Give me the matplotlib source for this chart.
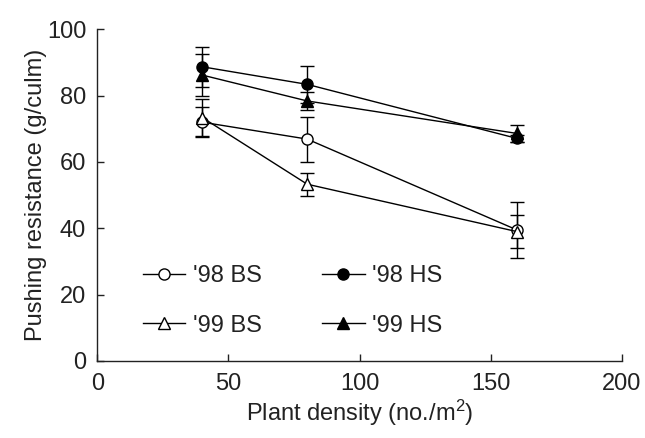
import matplotlib
matplotlib.use("Agg")
import matplotlib.pyplot as plt
from matplotlib.lines import Line2D

plt.rcParams['font.family'] = ['Liberation Sans', 'DejaVu Sans']
plt.rcParams['mathtext.fontset'] = 'custom'
plt.rcParams['mathtext.rm'] = 'Liberation Sans'
plt.rcParams['mathtext.it'] = 'Liberation Sans:italic'

density = [40, 80, 160]
bs98 = [72.0, 66.9, 39.5]
bs98_err = [4.5, 6.8, 8.3]
hs98 = [88.7, 83.4, 67.1]
hs98_err = [6.1, 5.5, 1.0]
bs99 = [73.4, 53.3, 39.0]
bs99_err = [5.6, 3.5, 4.9]
hs99 = [86.2, 78.4, 68.6]
hs99_err = [6.4, 2.8, 2.5]
labels = ["'98 BS", "'98 HS", "'99 BS", "'99 HS"]
xticks = [0, 50, 100, 150, 200]
yticks = [0, 20, 40, 60, 80, 100]

FS = 17
TXT = '#222222'

fig = plt.figure(figsize=(6.45, 4.38), dpi=100)
ax = fig.add_axes([0.1509, 0.1758, 0.8134, 0.7573])

common = dict(color='black', ecolor='black', lw=1.0, elinewidth=1.0,
              capsize=4.7, capthick=1.0, markeredgecolor='black',
              markeredgewidth=1.0)
styles = [('o', 'white', 8), ('o', 'black', 8), ('^', 'white', 8.5), ('^', 'black', 8.5)]
series = [(bs98, bs98_err), (hs98, hs98_err), (bs99, bs99_err), (hs99, hs99_err)]
handles = []
for (vals, errs), (mk, fc, ms), lab in zip(series, styles, labels):
    ax.errorbar(density, vals, yerr=errs, fmt='-' + mk, ms=ms,
                markerfacecolor=fc, **common)
    handles.append(Line2D([], [], color='black', lw=1.0, marker=mk, ms=ms,
                          markerfacecolor=fc, markeredgecolor='black',
                          markeredgewidth=1.0, label=lab))

ax.set_xlim(0, 200)
ax.set_ylim(0, 100)
ax.set_xticks(xticks)
ax.set_yticks(yticks)
for s in ['top', 'right']:
    ax.spines[s].set_visible(False)
for s in ['left', 'bottom']:
    ax.spines[s].set_linewidth(1.0)
    ax.spines[s].set_color(TXT)
ax.tick_params(direction='in', length=5, width=1.0, labelsize=FS,
               colors=TXT, labelcolor=TXT)
ax.tick_params(axis='x', pad=9)
ax.tick_params(axis='y', pad=8)

ax.set_xlabel('Plant density (no./m$^{2}$)', fontsize=FS, color=TXT, labelpad=2)
ax.set_ylabel('Pushing resistance (g/culm)', fontsize=FS, color=TXT, labelpad=0)

# matplotlib fills legend columns first: reorder so rows read '98 / '99
order = [0, 2, 1, 3]
leg = ax.legend([handles[i] for i in order], [labels[i] for i in order],
                ncol=2, frameon=False,
                loc='upper left', bbox_to_anchor=(0.087, 0.288),
                borderpad=0, borderaxespad=0, handlelength=1.8,
                handletextpad=0.3, columnspacing=2.57, labelspacing=1.15,
                fontsize=FS)
for t in leg.get_texts():
    t.set_color(TXT)

fig.savefig('out.png', dpi=100)
